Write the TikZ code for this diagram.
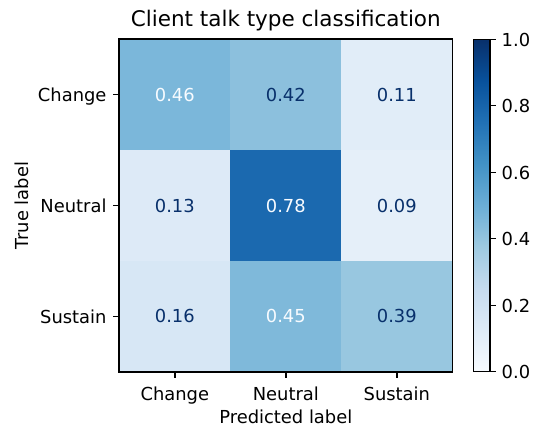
\documentclass[tikz,border=0pt]{standalone}
\usepackage{fontspec}
\setmainfont{DejaVu Sans}
\usetikzlibrary{positioning}

% Blues colour map samples
\definecolor{dark}{RGB}{8,48,107}
\definecolor{light}{RGB}{247,251,255}
\definecolor{v009}{RGB}{229,239,249}
\definecolor{v011}{RGB}{225,237,248}
\definecolor{v013}{RGB}{221,234,247}
\definecolor{v016}{RGB}{215,231,245}
\definecolor{v039}{RGB}{152,199,224}
\definecolor{v042}{RGB}{140,192,221}
\definecolor{v045}{RGB}{127,185,218}
\definecolor{v046}{RGB}{123,183,218}
\definecolor{v078}{RGB}{27,105,175}

% Colour bar gradient (values 0..1 mapped onto 25bp..75bp)
\pgfdeclareverticalshading{bluesmap}{100bp}{
  rgb(0bp)=(0.969,0.984,1);
  rgb(25bp)=(0.969,0.984,1);
  rgb(31.25bp)=(0.871,0.922,0.969);
  rgb(37.5bp)=(0.776,0.859,0.937);
  rgb(43.75bp)=(0.620,0.792,0.882);
  rgb(50bp)=(0.420,0.682,0.839);
  rgb(56.25bp)=(0.259,0.573,0.776);
  rgb(62.5bp)=(0.129,0.443,0.710);
  rgb(68.75bp)=(0.031,0.318,0.612);
  rgb(75bp)=(0.031,0.188,0.420);
  rgb(100bp)=(0.031,0.188,0.420)}

\tikzset{
  lbl/.style={font=\fontsize{17.9}{20}\selectfont, inner sep=0pt},
  cell/.style={lbl, minimum width=111pt, minimum height=110.8pt, draw=none},
  spine/.style={line width=1.43pt, black},
  tick/.style={line width=1.43pt, black},
}

\begin{document}
\begin{tikzpicture}[x=1pt, y=-1pt]
\useasboundingbox (0,0) rectangle (533,426);

% matrix cells
\node[cell, fill=v046, text=light] (c11) at (174.8,94.7)  {0.46};
\node[cell, fill=v042, text=dark]  (c12) at (285.8,94.7)  {0.42};
\node[cell, fill=v011, text=dark]  (c13) at (396.8,94.7)  {0.11};
\node[cell, fill=v013, text=dark]  (c21) at (174.8,205.5) {0.13};
\node[cell, fill=v078, text=light] (c22) at (285.8,205.5) {0.78};
\node[cell, fill=v009, text=dark]  (c23) at (396.8,205.5) {0.09};
\node[cell, fill=v016, text=dark]  (c31) at (174.8,316.3) {0.16};
\node[cell, fill=v045, text=light] (c32) at (285.8,316.3) {0.45};
\node[cell, fill=v039, text=dark]  (c33) at (396.8,316.3) {0.39};

% axes frame
\draw[spine] (c11.north west) rectangle (c33.south east);

% y ticks and labels
\foreach \n/\y/\t in {1/94.7/Change, 2/205.5/Neutral, 3/316.3/Sustain}{
  \draw[tick] (119.3,\y) -- (113,\y);
  \node[lbl, anchor=base east] (yl\n) at (106.7,\y+7) {\t};
}
% x ticks and labels
\foreach \n/\x/\t in {1/174.8/Change, 2/285.8/Neutral, 3/396.8/Sustain}{
  \draw[tick] (\x,371.7) -- (\x,378);
  \node[lbl, anchor=base] (xl\n) at (\x,400) {\t};
}

% axis titles
\node[lbl, anchor=base] (xlabel) at (285.8,423) {Predicted label};
\node[lbl, anchor=base, rotate=90] (ylabel) at (28.5,205.5) {True label};
\node[font=\fontsize{21.5}{24}\selectfont, inner sep=0pt, anchor=base] (title) at (285.8,26.7) {Client talk type classification};

% colour bar
\shade[shading=bluesmap] (473.3,39.3) rectangle (490,371.7);
\draw[spine] (473.3,39.3) rectangle (490,371.7);
\foreach \v/\t in {0/0.0, 1/0.2, 2/0.4, 3/0.6, 4/0.8, 5/1.0}{
  \pgfmathsetmacro{\yy}{371.7-\v*66.48}
  \draw[tick] (490,\yy) -- (496.3,\yy);
  \node[lbl, anchor=base west] (cb\v) at (501.5,\yy+7) {\t};
}
\end{tikzpicture}
\end{document}
